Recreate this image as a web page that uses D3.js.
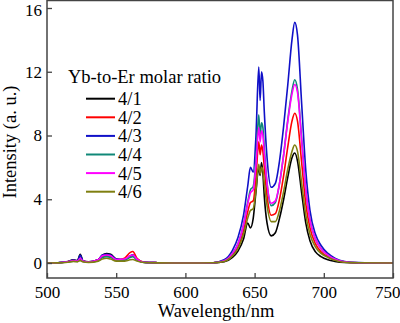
<!DOCTYPE html>
<html lang="en">
<head>
    <meta charset="UTF-8">
    <title>Emission spectra</title>
    <script src="https://cdn.jsdelivr.net/npm/d3@7"></script>
    <style>
        body { margin: 0; background: #fff; }
    </style>
</head>
<body>
<svg id="chart" width="400" height="323"></svg>
<script>
    // wavelengths (nm) shared by all curves
    let wavelengths = [500, 508, 515, 519, 522, 524, 526, 530, 537, 540,
        543, 546, 550, 556, 560, 562, 565, 570, 580, 600,
        620, 628, 634, 638, 642, 645, 647, 649, 651, 653,
        654, 655, 656, 657, 659, 662, 665, 668, 671, 674,
        677, 679, 681, 684, 687, 690, 694, 698, 703, 708,
        715, 725, 750];

    let ratios = ["4/1", "4/2", "4/3", "4/4", "4/5", "4/6"];
    let colors = ["#000000", "#ff0000", "#1010c8", "#108878", "#ff00ff", "#7f7f10"];

    let ratio41 = [0, 0.02, 0.1, 0.2, 0.15, 0.55, 0.15, 0.08, 0.2, 0.5, 0.6, 0.55, 0.25, 0.2, 0.4, 0.5, 0.25, 0.05, 0.02, 0,
        0.01, 0.08, 0.35, 0.75, 1.5, 2.5, 2.2, 2.8, 4.5, 6.0, 5.5, 6.3, 5.6, 4.2, 2.5, 1.7, 1.9, 2.8, 4.0, 5.4,
        6.6, 6.9, 6.4, 4.4, 2.5, 1.4, 0.7, 0.4, 0.2, 0.1, 0.03, 0.01, 0];
    let ratio42 = [0, 0.02, 0.08, 0.15, 0.1, 0.3, 0.1, 0.05, 0.2, 0.4, 0.45, 0.4, 0.2, 0.3, 0.65, 0.72, 0.3, 0.05, 0.02, 0,
        0.02, 0.12, 0.5, 1.0, 2.0, 3.2, 3.8, 3.9, 5.4, 7.6, 6.8, 7.4, 7.0, 6.0, 4.2, 3.0, 3.1, 4.0, 5.5, 7.3,
        8.9, 9.4, 8.9, 6.3, 3.7, 2.2, 1.2, 0.7, 0.4, 0.2, 0.06, 0.02, 0];
    let ratio43 = [0, 0.02, 0.08, 0.18, 0.12, 0.5, 0.12, 0.06, 0.2, 0.5, 0.55, 0.5, 0.25, 0.2, 0.45, 0.5, 0.2, 0.05, 0.02, 0,
        0.02, 0.2, 0.8, 1.6, 3.0, 4.8, 6.0, 5.7, 8.0, 12.3, 10.2, 12.0, 11.4, 9.5, 6.6, 4.75, 5.0, 6.4, 8.6, 11.2,
        14.0, 15.1, 14.3, 10.0, 5.8, 3.3, 1.8, 1.1, 0.6, 0.3, 0.1, 0.03, 0];
    let ratio44 = [0, 0.02, 0.06, 0.12, 0.1, 0.25, 0.1, 0.05, 0.15, 0.35, 0.4, 0.35, 0.2, 0.2, 0.35, 0.4, 0.2, 0.04, 0.02, 0,
        0.02, 0.15, 0.6, 1.2, 2.4, 3.8, 4.6, 4.8, 6.5, 9.3, 8.0, 8.8, 8.5, 7.2, 5.0, 3.6, 3.8, 5.0, 6.8, 9.0,
        10.8, 11.5, 10.9, 7.8, 4.6, 2.7, 1.5, 0.9, 0.5, 0.25, 0.08, 0.02, 0];
    let ratio45 = [0, 0.02, 0.08, 0.15, 0.12, 0.3, 0.12, 0.06, 0.2, 0.45, 0.5, 0.45, 0.22, 0.25, 0.45, 0.5, 0.25, 0.05, 0.02, 0,
        0.02, 0.15, 0.6, 1.2, 2.4, 3.7, 4.4, 4.6, 6.2, 8.5, 7.6, 8.3, 8.0, 6.9, 5.0, 3.75, 3.9, 5.0, 6.8, 8.9,
        10.6, 11.2, 10.7, 7.7, 4.6, 2.7, 1.5, 0.9, 0.5, 0.25, 0.08, 0.02, 0];
    let ratio46 = [0, 0.01, 0.05, 0.1, 0.08, 0.15, 0.08, 0.04, 0.12, 0.25, 0.3, 0.25, 0.12, 0.12, 0.2, 0.22, 0.12, 0.03, 0.01, 0,
        0.02, 0.1, 0.45, 0.9, 1.8, 2.8, 3.3, 3.4, 4.6, 6.2, 5.6, 6.0, 5.8, 5.0, 3.6, 2.6, 2.6, 3.3, 4.5, 5.9,
        7.0, 7.4, 7.0, 5.0, 3.0, 1.8, 1.0, 0.6, 0.35, 0.18, 0.05, 0.02, 0];

    let seriesValues = [ratio41, ratio42, ratio43, ratio44, ratio45, ratio46];

    let xTicks = [500, 550, 600, 650, 700, 750];
    let yTicks = [0, 4, 8, 12, 16];

    let serif = "'Liberation Serif', 'Times New Roman', Times, serif";

    let svg = d3.select("#chart");
    let plotLeft = 47, plotRight = 393, plotTop = 0.5, plotBottom = 278;

    let x = d3.scaleLinear().domain([500, 750]).range([plotLeft, plotRight]);
    let y = d3.scaleLinear().domain([-0.94, 16.47]).range([plotBottom, plotTop]);

    let line = d3.line()
        .x(function (d) { return x(d[0]); })
        .y(function (d) { return y(d[1]); })
        .curve(d3.curveMonotoneX);

    // curves
    for (let i = 0; i < seriesValues.length; i++) {
        let pts = wavelengths.map(function (w, j) { return [w, seriesValues[i][j]]; });
        svg.append("path")
            .datum(pts)
            .attr("d", line)
            .attr("fill", "none")
            .attr("stroke", colors[i])
            .attr("stroke-width", 1.6)
            .attr("stroke-linejoin", "round");
    }

    // frame
    svg.append("rect")
        .attr("x", plotLeft).attr("y", plotTop)
        .attr("width", plotRight - plotLeft).attr("height", plotBottom - plotTop)
        .attr("fill", "none").attr("stroke", "#444").attr("stroke-width", 1.5);

    // axes with inward ticks
    let xAxis = svg.append("g")
        .attr("transform", "translate(0," + plotBottom + ")")
        .call(d3.axisBottom(x).tickValues(xTicks).tickSizeInner(-5).tickSizeOuter(0).tickPadding(8));
    let yAxis = svg.append("g")
        .attr("transform", "translate(" + plotLeft + ",0)")
        .call(d3.axisLeft(y).tickValues(yTicks).tickSizeInner(-5).tickSizeOuter(0).tickPadding(5));

    [xAxis, yAxis].forEach(function (g) {
        g.attr("font-family", serif);
        g.select(".domain").remove();
        g.selectAll(".tick line").attr("stroke", "#444").attr("stroke-width", 1.3);
        g.selectAll(".tick text")
            .style("font-family", serif)
            .style("font-size", "17px")
            .attr("fill", "#000");
    });
    // last x label sits inside the window, like the original
    xAxis.selectAll(".tick text").filter(function (d) { return d === 750; })
        .attr("text-anchor", "end").attr("x", 7);
    yAxis.selectAll(".tick text").filter(function (d) { return d === 16; })
        .attr("dy", "0.42em");

    // axis titles
    svg.append("text")
        .attr("x", 216).attr("y", 317)
        .attr("text-anchor", "middle")
        .style("font-family", serif)
        .style("font-size", "18.5px")
        .text("Wavelength/nm");

    svg.append("text")
        .attr("transform", "translate(16,142) rotate(-90)")
        .attr("text-anchor", "middle")
        .style("font-family", serif)
        .style("font-size", "18.5px")
        .text("Intensity (a. u.)");

    // legend
    svg.append("text")
        .attr("x", 68).attr("y", 83)
        .style("font-family", serif)
        .style("font-size", "18.5px")
        .text("Yb-to-Er molar ratio");

    let legend = svg.append("g");
    ratios.forEach(function (r, i) {
        let ly = 98.7 + i * 18.6;
        legend.append("line")
            .attr("x1", 86).attr("x2", 115)
            .attr("y1", ly).attr("y2", ly)
            .attr("stroke", colors[i]).attr("stroke-width", 2);
        legend.append("text")
            .attr("x", 118).attr("y", ly + 6.5)
            .style("font-family", serif)
            .style("font-size", "18.5px")
            .text(r);
    });
</script>
</body>
</html>
